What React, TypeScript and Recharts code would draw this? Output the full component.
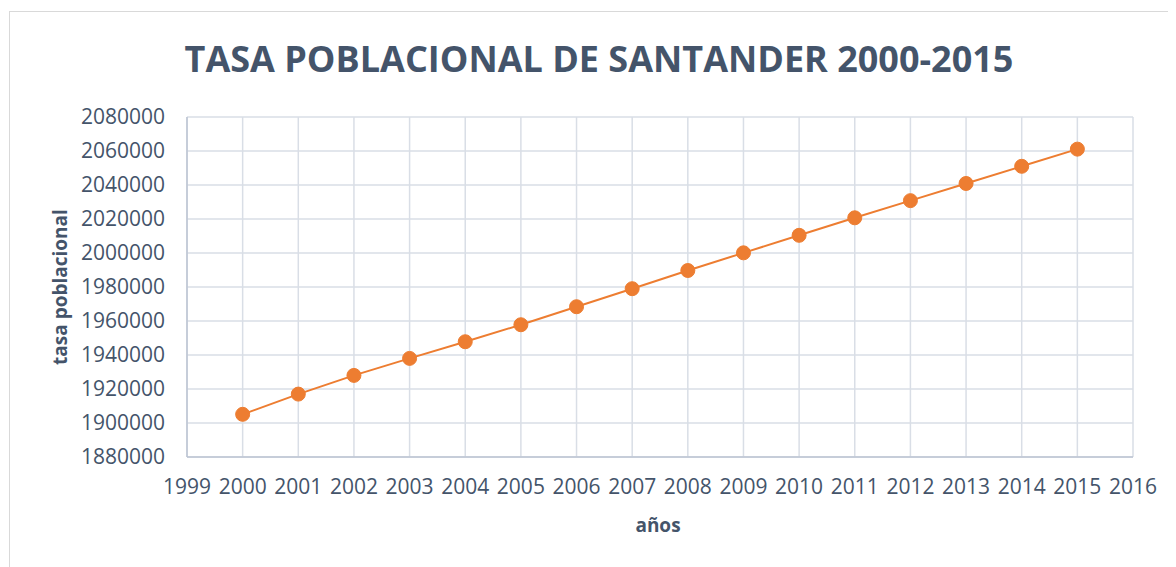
import { LineChart, Line, XAxis, YAxis, CartesianGrid } from "recharts";

// años y población estimada de Santander
const years = [2000, 2001, 2002, 2003, 2004, 2005, 2006, 2007, 2008, 2009, 2010, 2011, 2012, 2013, 2014, 2015];
const population = [
  1905100, 1917000, 1928000, 1938000, 1947800, 1957800, 1968400, 1979000,
  1989700, 2000100, 2010400, 2020700, 2030800, 2040900, 2051000, 2061100,
];
const xTicks = [1999, 2000, 2001, 2002, 2003, 2004, 2005, 2006, 2007, 2008, 2009, 2010, 2011, 2012, 2013, 2014, 2015, 2016];
const yTicks = [1880000, 1900000, 1920000, 1940000, 1960000, 1980000, 2000000, 2020000, 2040000, 2060000, 2080000];

const data = years.map((year, i) => ({ year, value: population[i] }));

const TEXT = "#44546A";
const ORANGE = "#ED7D31";
const FONT = "'Open Sans', sans-serif";

const App = () => {
  return (
    <div style={{ position: "relative", width: 1168, height: 559, overflow: "hidden", fontFamily: FONT }}>
      <div
        style={{
          position: "absolute",
          left: 1,
          top: 3,
          width: 2000,
          height: 2000,
          border: "1px solid #D9D9D9",
        }}
      />
      <div
        style={{
          position: "absolute",
          left: 0,
          width: 1182,
          top: 26,
          textAlign: "center",
          fontSize: 36,
          fontWeight: 700,
          color: TEXT,
        }}
      >
        TASA POBLACIONAL DE SANTANDER 2000-2015
      </div>
      <div
        style={{
          position: "absolute",
          left: 52,
          top: 279,
          width: 0,
          height: 0,
        }}
      >
        <div
          style={{
            position: "absolute",
            transform: "translate(-50%, -50%) rotate(-90deg)",
            whiteSpace: "nowrap",
            fontSize: 19,
            fontWeight: 700,
            color: TEXT,
          }}
        >
          tasa poblacional
        </div>
      </div>
      <div
        style={{
          position: "absolute",
          left: 550,
          top: 504,
          width: 200,
          textAlign: "center",
          fontSize: 19,
          fontWeight: 700,
          color: TEXT,
        }}
      >
        años
      </div>
      <div style={{ position: "absolute", left: 0, top: 0 }}>
        <LineChart width={1168} height={559} data={data} margin={{ top: 109, right: 43, bottom: 50, left: 0 }}>
          <CartesianGrid stroke="#D9DEE6" strokeWidth={1.5} />
          <XAxis
            dataKey="year"
            type="number"
            domain={[1999, 2016]}
            ticks={xTicks}
            interval={0}
            tickLine={false}
            tickSize={0}
            tickMargin={22}
            height={60}
            axisLine={{ stroke: "#BCC5D3", strokeWidth: 1.5 }}
            tick={{ fill: TEXT, fontSize: 21, fontFamily: FONT }}
          />
          <YAxis
            type="number"
            domain={[1880000, 2080000]}
            ticks={yTicks}
            interval={0}
            tickLine={false}
            tickSize={0}
            tickMargin={22}
            width={179}
            axisLine={{ stroke: "#BCC5D3", strokeWidth: 1.5 }}
            tick={{ fill: TEXT, fontSize: 21, fontFamily: FONT }}
          />
          <Line
            type="linear"
            dataKey="value"
            stroke={ORANGE}
            strokeWidth={2}
            dot={{ r: 7, fill: ORANGE, stroke: ORANGE, strokeWidth: 1 }}
            isAnimationActive={false}
          />
        </LineChart>
      </div>
    </div>
  );
};

export default App;
